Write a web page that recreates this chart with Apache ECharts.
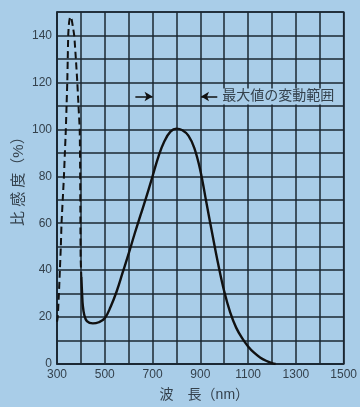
<!DOCTYPE html>
<html><head><meta charset="utf-8">
<script src="https://cdn.jsdelivr.net/npm/echarts@6/dist/echarts.min.js"></script>
<style>html,body{margin:0;padding:0;background:#a9cde8}#c{width:360px;height:407px}</style>
</head><body><div id="c"></div>
<script>
// Tick labels
const xTickLabels = [300, 500, 700, 900, 1100, 1300, 1500];
const yTickLabels = [0, 20, 40, 60, 80, 100, 120, 140];

// Dashed UV peak (nm, %)
const uvPeak = [
  [300,18],[303,20],[308,30],[312,40],[316,50],[319,60],[324,70],[329,80],[333,90],
  [337,100],[340,110],[343,120],[345,130],[347,140],[350,145],[354,147.5],[357,148],
  [361,147],[366,144],[372,140],[379,130],[385,120],[390,110],[395,100],[397,80],
  [398,60],[399,45],[402,37]
];

// Solid main sensitivity curve (nm, %)
const mainCurve = [
  [402,37],[405,30],[408,25],[414,21],[425,18.3],[450,17.3],[475,17.8],[500,19.5],
  [525,24.5],[550,31],[575,39],[600,47],[625,55.5],[650,63.5],[675,71.5],[700,80],
  [725,88.5],[750,95],[775,99],[800,100.3],[825,99.6],[850,97.3],[875,92],[900,82.5],
  [925,69],[950,55.5],[975,42.5],[1000,31],[1025,22],[1050,15.5],[1075,11],[1100,7.5],
  [1125,4.8],[1150,2.8],[1175,1.4],[1200,0.4],[1215,0]
];

// Annotation: range of variation of the maximum
const rangeLevel = 114;
const rangeArrowLeft = [628, 700];
const rangeArrowRight = [971, 903];
const rangeLabelX = 983;
const rangeLabel = '最大値の変動範囲';

const xName = '波　長（nm）';
const yName = '比 感 度（%）';

const lineColor = '#1b2732';
const textColor = '#34414c';
const font = '"Liberation Sans", "Noto Sans CJK JP", sans-serif';

const chart = echarts.init(document.getElementById('c'));
chart.setOption({
  backgroundColor: '#a9cde8',
  animation: false,
  grid: { left: 57, right: 16, top: 12, bottom: 39, show: true, borderColor: lineColor, borderWidth: 1.5 },
  xAxis: {
    type: 'value', min: 300, max: 1500, interval: 100,
    axisLine: { show: true, lineStyle: { color: lineColor, width: 1.5 } },
    axisTick: { show: false },
    splitLine: { show: true, lineStyle: { color: lineColor, width: 1.5 } },
    axisLabel: { color: textColor, fontSize: 12, fontFamily: font, margin: 5,
      formatter: v => xTickLabels.includes(v) ? String(v) : '' },
    name: xName, nameLocation: 'middle', nameGap: 24,
    nameTextStyle: { color: textColor, fontSize: 14, fontFamily: font, padding: [0, 0, 0, 8] }
  },
  yAxis: {
    type: 'value', min: 0, max: 150, interval: 10,
    axisLine: { show: true, lineStyle: { color: lineColor, width: 1.5 } },
    axisTick: { show: false },
    splitLine: { show: true, lineStyle: { color: lineColor, width: 1.5 } },
    axisLabel: { color: textColor, fontSize: 12, fontFamily: font, margin: 5,
      formatter: v => yTickLabels.includes(v) ? String(v) : '' }
  },
  graphic: [{
    type: 'text', x: 11, y: 226, rotation: Math.PI / 2,
    style: { text: yName, fill: textColor, fontSize: 15, fontFamily: font }
  }],
  series: [
    { type: 'line', data: uvPeak, showSymbol: false, smooth: 0.2,
      lineStyle: { color: '#111', width: 2, type: [7, 4] } },
    { type: 'line', data: mainCurve, showSymbol: false, smooth: 0.4,
      lineStyle: { color: '#111', width: 2.4 },
      markLine: {
        silent: true, symbol: ['none', 'arrow'], symbolSize: [7, 8],
        lineStyle: { color: '#111', width: 1.5, type: 'solid' }, label: { show: false },
        data: [
          [{ coord: [rangeArrowLeft[0], rangeLevel] }, { coord: [rangeArrowLeft[1], rangeLevel] }],
          [{ coord: [rangeArrowRight[0], rangeLevel] }, { coord: [rangeArrowRight[1], rangeLevel] }]
        ]
      },
      markPoint: {
        silent: true, symbol: 'rect', symbolSize: 0,
        label: { show: true, position: 'right', distance: 0, formatter: rangeLabel,
          color: textColor, fontSize: 14, fontFamily: font, backgroundColor: '#a9cde8',
          padding: [1, 1, 1, 2] },
        data: [{ coord: [rangeLabelX, rangeLevel] }]
      }
    }
  ]
});
</script></body></html>
